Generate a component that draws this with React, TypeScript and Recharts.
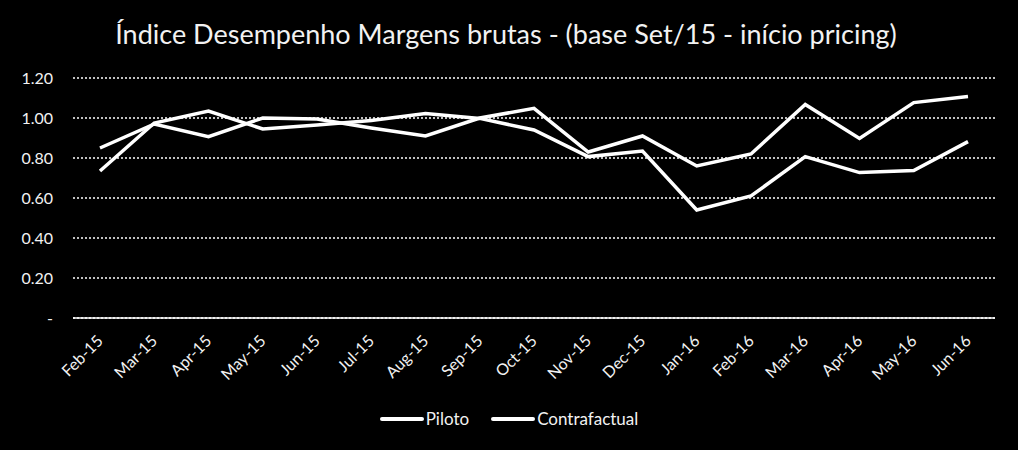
import { LineChart, Line, XAxis, YAxis, CartesianGrid } from "recharts";

const months = [
  "Feb-15", "Mar-15", "Apr-15", "May-15", "Jun-15", "Jul-15", "Aug-15", "Sep-15",
  "Oct-15", "Nov-15", "Dec-15", "Jan-16", "Feb-16", "Mar-16", "Apr-16", "May-16", "Jun-16",
];

const piloto = [
  0.85, 0.97, 0.907, 1.0, 0.995, 0.95, 0.91, 1.0,
  1.048, 0.83, 0.91, 0.76, 0.82, 1.068, 0.898, 1.077, 1.107,
];

const contrafactual = [
  0.735, 0.975, 1.035, 0.945, 0.965, 0.987, 1.023, 0.998,
  0.94, 0.807, 0.835, 0.54, 0.61, 0.807, 0.727, 0.737, 0.882,
];

const yTicks = [0, 0.2, 0.4, 0.6, 0.8, 1.0, 1.2];

const FONT = "Lato, 'Open Sans', sans-serif";
const TEXT = "#f2f2f2";

const data = months.map((m, i) => ({
  month: m,
  Piloto: piloto[i],
  Contrafactual: contrafactual[i],
}));

function MonthTick(props: any) {
  const { x, y, payload } = props;
  return (
    <text
      x={x + 4}
      y={y + 16}
      transform={`rotate(-45 ${x + 4} ${y + 16})`}
      textAnchor="end"
      fill={TEXT}
      fontSize={16}
      fontFamily={FONT}
    >
      {payload.value}
    </text>
  );
}

function ChartLegend() {
  const items = ["Piloto", "Contrafactual"];
  return (
    <div
      style={{
        position: "absolute",
        top: 408,
        left: 0,
        width: 1018,
        display: "flex",
        justifyContent: "center",
        gap: 22,
        fontFamily: FONT,
        fontSize: 17,
        color: TEXT,
      }}
    >
      {items.map((name) => (
        <div key={name} style={{ display: "flex", alignItems: "center" }}>
          <svg width={46} height={10}>
            <line x1={2} y1={5} x2={42} y2={5} stroke="#fff" strokeWidth={4} strokeLinecap="round" />
          </svg>
          <span>{name}</span>
        </div>
      ))}
    </div>
  );
}

export default function App() {
  return (
    <div style={{ position: "absolute", left: 0, top: 0, width: 1018, height: 450, background: "#000" }}>
      <div
        style={{
          position: "absolute",
          top: 17,
          left: 0,
          width: 1012,
          textAlign: "center",
          fontFamily: FONT,
          fontSize: 27,
          color: TEXT,
        }}
      >
        Índice Desempenho Margens brutas - (base Set/15 - início pricing)
      </div>
      <LineChart width={1018} height={450} data={data} margin={{ top: 78, right: 23, bottom: 72, left: 0 }}>
        <CartesianGrid vertical={false} stroke="#ffffff" strokeWidth={1.5} strokeDasharray="2 2" />
        <XAxis
          dataKey="month"
          interval={0}
          tick={<MonthTick />}
          tickLine={false}
          axisLine={{ stroke: "#ffffff", strokeWidth: 1.5 }}
          padding={{ left: 27, right: 27 }}
          height={60}
        />
        <YAxis
          domain={[0, 1.2]}
          ticks={yTicks}
          width={73}
          axisLine={false}
          tickLine={false}
          tickSize={0}
          tickMargin={20}
          tick={{ fill: TEXT, fontSize: 16, fontFamily: FONT }}
          tickFormatter={(v: number) => (v === 0 ? "-" : v.toFixed(2))}
        />
        <Line type="linear" dataKey="Piloto" stroke="#ffffff" strokeWidth={3.5} dot={false} isAnimationActive={false} />
        <Line type="linear" dataKey="Contrafactual" stroke="#ffffff" strokeWidth={3.5} dot={false} isAnimationActive={false} />
      </LineChart>
      <ChartLegend />
    </div>
  );
}
